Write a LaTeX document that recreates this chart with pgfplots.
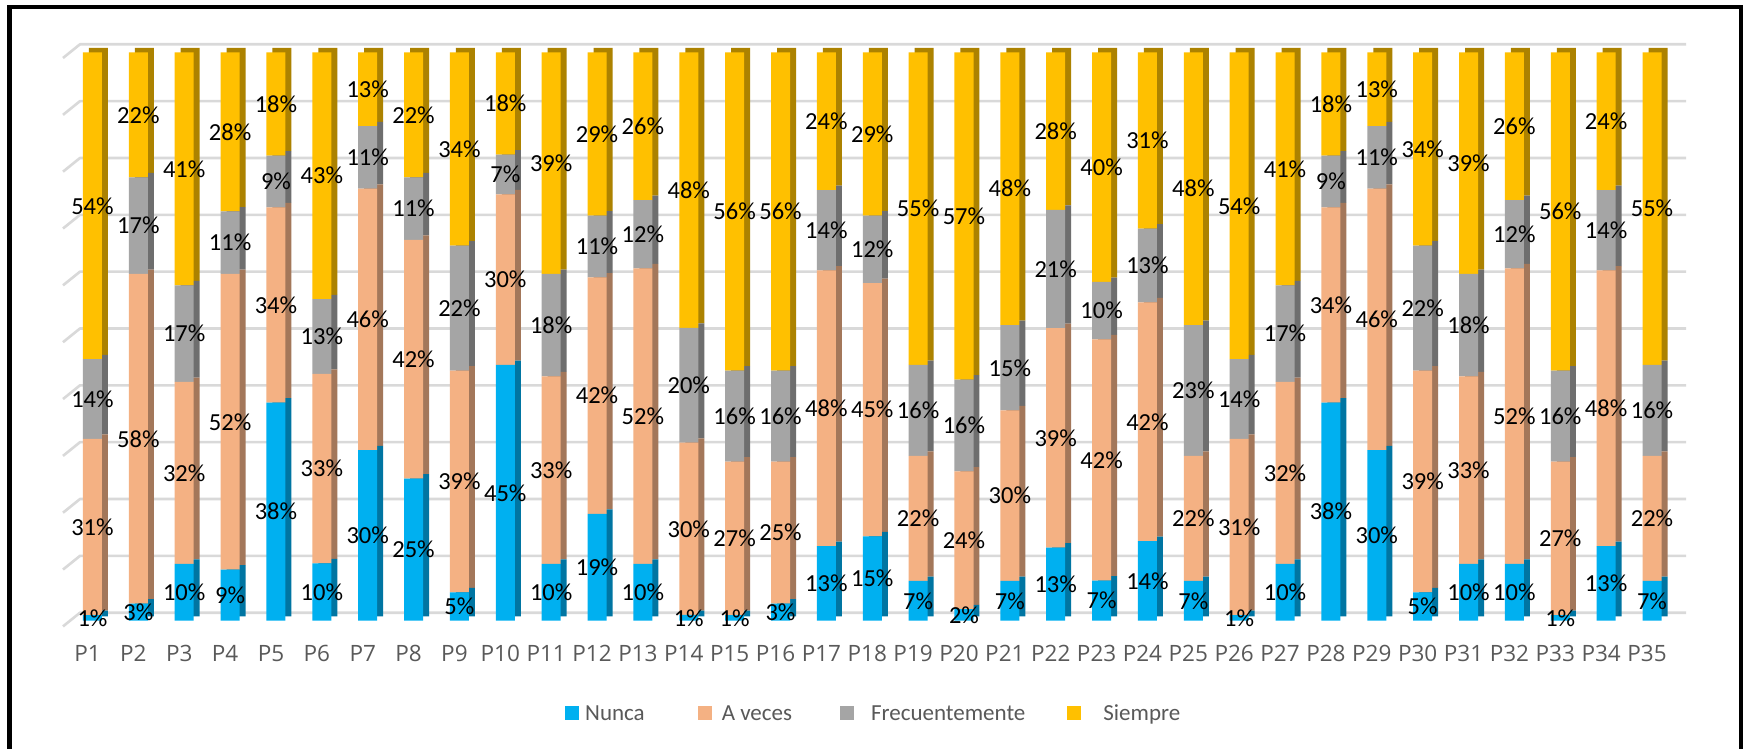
\documentclass[border=0pt]{standalone}
\usepackage{pgfplots}
\pgfplotsset{compat=1.18}
\usepackage{pgfplotstable}
\usepackage{fontspec}
\setmainfont{Carlito}
\newfontfamily\tickfont{Open Sans}
\definecolor{cN}{HTML}{00B0F0}
\definecolor{cA}{HTML}{F4B183}
\definecolor{cF}{HTML}{A5A5A5}
\definecolor{cS}{HTML}{FFC000}
\definecolor{dN}{HTML}{0075A2}
\definecolor{dA}{HTML}{A3775A}
\definecolor{dF}{HTML}{6E6E6E}
\definecolor{dS}{HTML}{AC8200}
\definecolor{gridc}{HTML}{D9D9D9}
\definecolor{tickc}{HTML}{595959}

\pgfplotstableread{
x N A F S
1 1 31 14 54
2 3 58 17 22
3 10 32 17 41
4 9 52 11 28
5 38 34 9 18
6 10 33 13 43
7 30 46 11 13
8 25 42 11 22
9 5 39 22 34
10 45 30 7 18
11 10 33 18 39
12 19 42 11 29
13 10 52 12 26
14 1 30 20 48
15 1 27 16 56
16 3 25 16 56
17 13 48 14 24
18 15 45 12 29
19 7 22 16 55
20 2 24 16 57
21 7 30 15 48
22 13 39 21 28
23 7 42 10 40
24 14 42 13 31
25 7 22 23 48
26 1 31 14 54
27 10 32 17 41
28 38 34 9 18
29 30 46 11 13
30 5 39 22 34
31 10 33 18 39
32 10 52 12 26
33 1 27 16 56
34 13 48 14 24
35 7 22 16 55
}\datatable

\newcommand{\tot}{(\thisrow{N}+\thisrow{A}+\thisrow{F}+\thisrow{S})}

\pgfplotsset{
  base/.style={scale only axis, width=1623pt, height=568.4pt,
    xmin=0.3569, xmax=35.741, ymin=0, ymax=100,
    enlargelimits=false, clip=false, anchor=south west},
}

\begin{document}
\begin{tikzpicture}[x=1pt,y=1pt]
\path[use as bounding box] (0,0) rectangle (1743,748);
\fill[white] (0,0) rectangle (1743,748);

% gridlines
\begin{axis}[base, at={(63pt,127.3pt)}, hide axis]
\pgfplotsinvokeforeach{0,10,...,100}{
  \draw[gridc, line width=2.6pt, line join=round]
    ([yshift=-5.7pt]axis cs:0.3569,#1) --
    ([xshift=17pt,yshift=8pt]axis cs:0.3569,#1) --
    ([yshift=8pt]axis cs:35.741,#1);
}
\end{axis}

% back (3D side) bars
\begin{axis}[base, at={(69pt,131.7pt)}, hide axis, ybar stacked, bar width=19pt]
\addplot[fill=dN, draw=none] table[x=x,y expr=100*\thisrow{N}/\tot]{\datatable};
\addplot[fill=dA, draw=none] table[x=x,y expr=100*\thisrow{A}/\tot]{\datatable};
\addplot[fill=dF, draw=none] table[x=x,y expr=100*\thisrow{F}/\tot]{\datatable};
\addplot[fill=dS, draw=none] table[x=x,y expr=100*\thisrow{S}/\tot]{\datatable};
\end{axis}

% front bars
\begin{axis}[base, at={(63pt,127.3pt)}, hide axis, ybar stacked, bar width=19pt]
\addplot[fill=cN, draw=none] table[x=x,y expr=100*\thisrow{N}/\tot]{\datatable};
\addplot[fill=cA, draw=none] table[x=x,y expr=100*\thisrow{A}/\tot]{\datatable};
\addplot[fill=cF, draw=none] table[x=x,y expr=100*\thisrow{F}/\tot]{\datatable};
\addplot[fill=cS, draw=none] table[x=x,y expr=100*\thisrow{S}/\tot]{\datatable};
\end{axis}

% labels, ticks, legend
\begin{axis}[base, at={(63pt,127.3pt)},
  axis line style={draw=none}, tick style={draw=none},
  ytick=\empty,
  xtick={1,...,35},
  xticklabels={P1,P2,P3,P4,P5,P6,P7,P8,P9,P10,P11,P12,P13,P14,P15,P16,P17,P18,P19,P20,P21,P22,P23,P24,P25,P26,P27,P28,P29,P30,P31,P32,P33,P34,P35},
  xticklabel style={anchor=base, yshift=-41pt, xshift=-5pt, font=\tickfont\fontsize{22.5}{26}\selectfont, text=tickc},
  nodes near coords={\pgfplotspointmeta\%},
  point meta=explicit symbolic,
  every node near coord/.append style={anchor=center, font=\fontsize{24.5}{28}\selectfont, text=black, inner sep=0pt},
  legend columns=4,
  legend image code/.code={\fill[#1] (0pt,0.5pt) rectangle (14pt,14.5pt);},
  legend style={at={(0.3093,-0.1633)}, anchor=west, draw=none, fill=none,
    inner sep=0pt, font=\fontsize{23}{26}\selectfont, text=tickc,
    nodes={inner sep=0pt, anchor=base west},
    /tikz/column 1/.style={column sep=6pt},
    /tikz/column 2/.style={column sep=53pt},
    /tikz/column 3/.style={column sep=10pt},
    /tikz/column 4/.style={column sep=48pt},
    /tikz/column 5/.style={column sep=17pt},
    /tikz/column 6/.style={column sep=42pt},
    /tikz/column 7/.style={column sep=22pt}},
]
\addlegendimage{fill=cN, draw=none}\addlegendentry{Nunca}
\addlegendimage{fill=cA, draw=none}\addlegendentry{A veces}
\addlegendimage{fill=cF, draw=none}\addlegendentry{Frecuentemente}
\addlegendimage{fill=cS, draw=none}\addlegendentry{Siempre}
\addplot[draw=none, mark=none, forget plot] table[x=x, y expr=100*(\thisrow{N}/2)/\tot, meta=N]{\datatable};
\addplot[draw=none, mark=none, forget plot] table[x=x, y expr=100*(\thisrow{N}+\thisrow{A}/2)/\tot, meta=A]{\datatable};
\addplot[draw=none, mark=none, forget plot] table[x=x, y expr=100*(\thisrow{N}+\thisrow{A}+\thisrow{F}/2)/\tot, meta=F]{\datatable};
\addplot[draw=none, mark=none, forget plot] table[x=x, y expr=100*(\thisrow{N}+\thisrow{A}+\thisrow{F}+\thisrow{S}/2)/\tot, meta=S]{\datatable};
\end{axis}

% outer frame
\draw[line width=4.5pt] (9.7,-20) -- (9.7,741) -- (1741.3,741) -- (1741.3,-20);
\end{tikzpicture}
\end{document}
